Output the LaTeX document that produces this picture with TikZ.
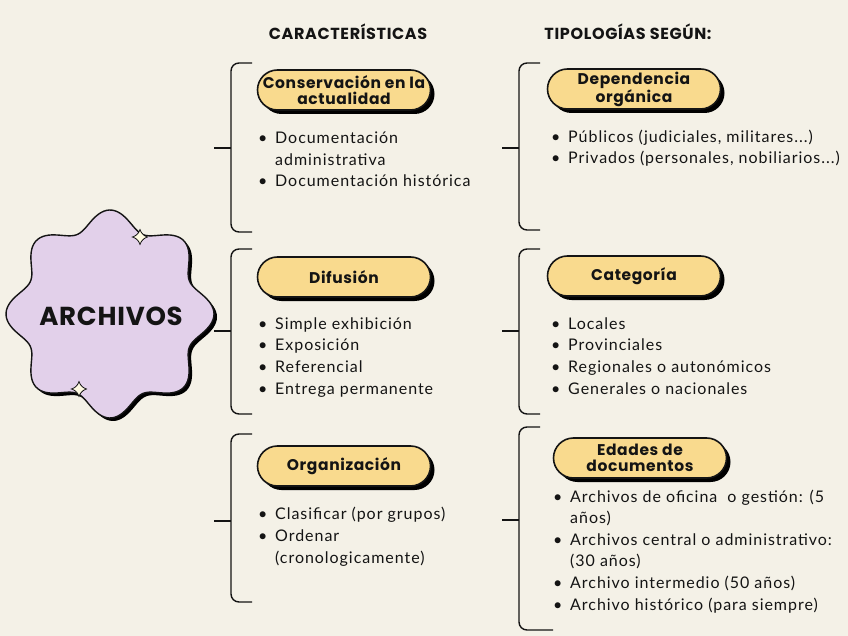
\documentclass[tikz,border=0pt]{standalone}
\usepackage{fontspec}
\setmainfont{Lato}
\newfontfamily\bodyfont{Lato}[LetterSpace=6]
\newfontfamily\headfont{Poppins}[LetterSpace=4]
\newfontfamily\starfont{Poppins}[LetterSpace=3]
\usetikzlibrary{shadows}
\definecolor{bgcream}{HTML}{F4F1E7}
\definecolor{lavender}{HTML}{E2D0EA}
\definecolor{pillyellow}{HTML}{F9DA8E}
\definecolor{sparkcream}{HTML}{FFFBE2}
\definecolor{inkdark}{HTML}{141414}
\newcommand{\bl}{\makebox[17pt][l]{\textbullet}}
\newcommand{\nb}{\hspace*{17pt}}

\begin{document}
\begin{tikzpicture}[
  x=1pt, y=-1pt,
  pill/.style={draw=inkdark, line width=1.6pt, fill=pillyellow, rounded corners=20pt,
               minimum width=173pt, minimum height=40pt, align=center, inner sep=1pt,
               text=inkdark, font=\headfont\bfseries\fontsize{15.5}{16}\selectfont,
               drop shadow={shadow xshift=4pt, shadow yshift=-4pt, fill=black, opacity=1}},
  items/.style={anchor=base west, align=left, inner sep=0pt, text=inkdark,
                font=\bodyfont\fontsize{16}{21.6}\selectfont},
  title/.style={text=inkdark, font=\headfont\bfseries\fontsize{16}{17}\selectfont},
  brace/.style={draw=inkdark, line width=1.4pt, rounded corners=8pt},
  sparkle/.style={draw=inkdark, line width=0.8pt, fill=sparkcream}
]
\fill[bgcream] (0,0) rectangle (848,636);
\useasboundingbox (0,0) rectangle (848,636);

% headings
\node[title] (carac) at (348,32) {CARACTERÍSTICAS};
\node[title] (tipo)  at (628,32) {TIPOLOGÍAS SEGÚN:};

% central star
\fill[black] plot[domain=0:360, samples=240, variable=\t]
  ({113+(95+9*cos(8*\t))*cos(\t)}, {317+(95+9*cos(8*\t))*sin(\t)}) -- cycle;
\draw[inkdark, line width=1.4pt, fill=lavender] plot[domain=0:360, samples=240, variable=\t]
  ({110+(95+9*cos(8*\t))*cos(\t)}, {314+(95+9*cos(8*\t))*sin(\t)}) -- cycle;
\node[font=\starfont\bfseries\fontsize{26}{28}\selectfont, text=inkdark] (arch) at (111,316) {ARCHIVOS};
\draw[sparkle] plot[domain=0:360, samples=80, variable=\t]
  ({140+8*cos(\t)*cos(\t)*cos(\t)}, {237+8*sin(\t)*sin(\t)*sin(\t)}) -- cycle;
\draw[sparkle] plot[domain=0:360, samples=80, variable=\t]
  ({79+8*cos(\t)*cos(\t)*cos(\t)}, {389+8*sin(\t)*sin(\t)*sin(\t)}) -- cycle;

% braces: x / top / bottom / tick / bottom arm
\foreach \bx/\ya/\yb/\yt/\arm in {231/63/232/148/21, 231/249/414/331/21, 231/434/602/521/21,
                                   519/63/230/148/21, 519/249/414/331/21, 519/427/630/520/34} {
  \draw[brace] (\bx+21,\ya) -- (\bx,\ya) -- (\bx,\yb) -- (\bx+\arm,\yb);
  \draw[brace] (\bx-17,\yt) -- (\bx,\yt);
}

% caracteristicas
\node[pill] (cons) at (344,90)  {Conservación en la\\actualidad};
\node[pill] (difu) at (344,277) {Difusión};
\node[pill] (orga) at (344,466) {Organización};

% lists: placed at the baseline of their last line
\node[items] (consL) at (258,187) {\bl Documentación\\\nb administrativa\\\bl Documentación histórica};
\node[items] (difuL) at (258,394) {\bl Simple exhibición\\\bl Exposición\\\bl Referencial\\\bl Entrega permanente};
\node[items] (orgaL) at (258,563) {\bl Clasificar (por grupos)\\\bl Ordenar\\\nb (cronologicamente)};

% tipologias
\node[pill] (depe) at (634,89)  {Dependencia\\orgánica};
\node[pill] (cate) at (634,276) {Categoría};
\node[pill] (edad) at (640,458) {Edades de\\documentos};

\node[items] (depeL) at (551,164) {\bl Públicos (judiciales, militares...)\\\bl Privados (personales, nobiliarios...)};
\node[items] (cateL) at (551,394) {\bl Locales\\\bl Provinciales\\\bl Regionales o autonómicos\\\bl Generales o nacionales};
\node[items] (edadL) at (553,610) {\bl Archivos de oficina \ o gestión: (5\\\nb años)\\\bl Archivos central o administrativo:\\\nb (30 años)\\\bl Archivo intermedio (50 años)\\\bl Archivo histórico (para siempre)};
\end{tikzpicture}
\end{document}
